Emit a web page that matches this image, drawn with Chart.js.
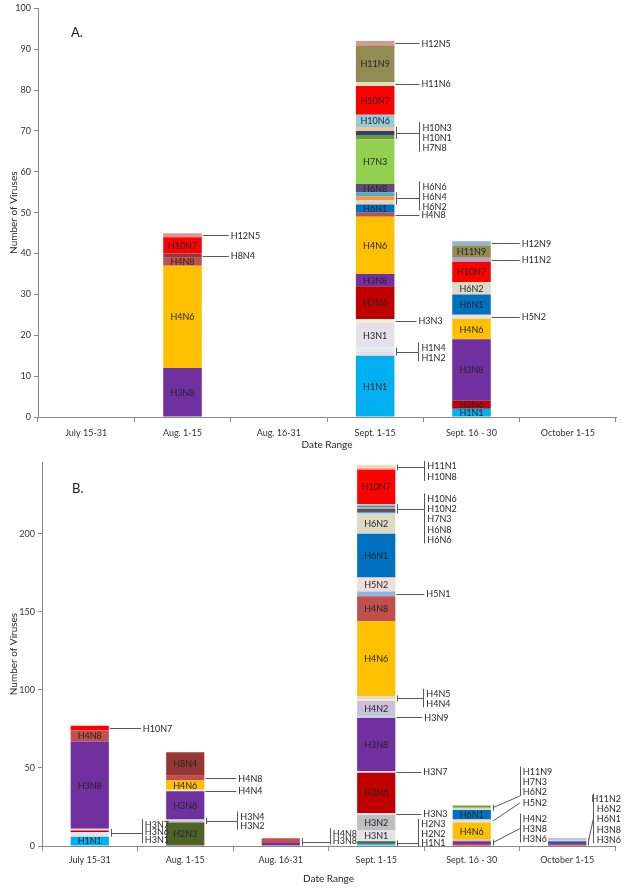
<!DOCTYPE html>
<html><head><meta charset="utf-8">
<script src="https://cdn.jsdelivr.net/npm/chart.js@4.4.1/dist/chart.umd.min.js"></script>
<style>
html,body{margin:0;padding:0;background:#fff;width:625px;height:893px;overflow:hidden}
canvas{position:absolute;left:0}
#ca{top:0}
#cb{top:450px}
</style></head><body>
<canvas id="ca" width="625" height="451"></canvas>
<canvas id="cb" width="625" height="435"></canvas>
<script>
const FONT = 'Lato, "Open Sans", "Liberation Sans", sans-serif';

// ---- categories (date ranges) ----
const categories = ['July 15-31', 'Aug. 1-15', 'Aug. 16-31', 'Sept. 1-15', 'Sept. 16 - 30', 'October 1-15'];

// ---- Panel A: number of viruses per subtype, one value per date range ----
const A_H1N1  = [0, 0, 0, 15, 2, 0];
const A_H1N2  = [0, 0, 0, 1, 0, 0];
const A_H1N4  = [0, 0, 0, 1, 0, 0];
const A_H3N1  = [0, 0, 0, 6, 0, 0];
const A_H3N3  = [0, 0, 0, 1, 0, 0];
const A_H3N6  = [0, 0, 0, 8, 2, 0];
const A_H3N8  = [0, 12, 0, 3, 15, 0];
const A_H4N6  = [0, 25, 0, 14, 5, 0];
const A_H4N8  = [0, 2, 0, 1, 0, 0];
const A_H5N2  = [0, 0, 0, 0, 1, 0];
const A_H6N1  = [0, 0, 0, 2, 5, 0];
const A_H6N2  = [0, 0, 0, 1, 3, 0];
const A_H6N4  = [0, 0, 0, 1, 0, 0];
const A_H6N6  = [0, 0, 0, 1, 0, 0];
const A_H6N8  = [0, 0, 0, 2, 0, 0];
const A_H7N3  = [0, 0, 0, 11, 0, 0];
const A_H7N8  = [0, 0, 0, 1, 0, 0];
const A_H8N4  = [0, 1, 0, 0, 0, 0];
const A_H10N1 = [0, 0, 0, 1, 0, 0];
const A_H10N3 = [0, 0, 0, 1, 0, 0];
const A_H10N6 = [0, 0, 0, 3, 0, 0];
const A_H10N7 = [0, 4, 0, 7, 5, 0];
const A_H11N2 = [0, 0, 0, 0, 1, 0];
const A_H11N6 = [0, 0, 0, 1, 0, 0];
const A_H11N9 = [0, 0, 0, 9, 3, 0];
const A_H12N5 = [0, 1, 0, 1, 0, 0];
const A_H12N9 = [0, 0, 0, 0, 1, 0];

// ---- Panel B ----
const B_H1N1  = [6, 0, 0, 1, 0, 0];
const B_H2N2  = [0, 0, 0, 1, 0, 0];
const B_H2N3  = [0, 15, 0, 1, 0, 0];
const B_H3N1  = [3, 0, 0, 7, 0, 0];
const B_H3N2  = [0, 1, 0, 10, 0, 0];
const B_H3N3  = [0, 0, 0, 1, 0, 0];
const B_H3N4  = [0, 1, 0, 0, 0, 0];
const B_H3N6  = [1, 0, 0, 26, 1, 1];
const B_H3N7  = [1, 0, 0, 1, 0, 0];
const B_H3N8  = [56, 18, 2, 34, 2, 1];
const B_H3N9  = [0, 0, 0, 1, 0, 0];
const B_H4N2  = [0, 0, 0, 10, 1, 0];
const B_H4N4  = [0, 1, 0, 1, 0, 0];
const B_H4N5  = [0, 0, 0, 2, 0, 0];
const B_H4N6  = [0, 6, 0, 48, 11, 0];
const B_H4N8  = [7, 3, 3, 16, 0, 0];
const B_H5N1  = [0, 0, 0, 3, 0, 0];
const B_H5N2  = [0, 0, 0, 9, 2, 0];
const B_H6N1  = [0, 0, 0, 28, 6, 1];
const B_H6N2  = [0, 0, 0, 13, 1, 1];
const B_H6N6  = [0, 0, 0, 1, 0, 0];
const B_H6N8  = [0, 0, 0, 2, 0, 0];
const B_H7N3  = [0, 0, 0, 1, 1, 0];
const B_H8N4  = [0, 15, 0, 0, 0, 0];
const B_H10N2 = [0, 0, 0, 1, 0, 0];
const B_H10N6 = [0, 0, 0, 1, 0, 0];
const B_H10N7 = [3, 0, 0, 22, 0, 0];
const B_H10N8 = [0, 0, 0, 1, 0, 0];
const B_H11N1 = [0, 0, 0, 2, 0, 0];
const B_H11N2 = [0, 0, 0, 0, 0, 1];
const B_H11N9 = [0, 0, 0, 0, 1, 0];

const seriesA = [
  ['H1N1', A_H1N1], ['H1N2', A_H1N2], ['H1N4', A_H1N4], ['H3N1', A_H3N1], ['H3N3', A_H3N3],
  ['H3N6', A_H3N6], ['H3N8', A_H3N8], ['H4N6', A_H4N6], ['H4N8', A_H4N8], ['H5N2', A_H5N2],
  ['H6N1', A_H6N1], ['H6N2', A_H6N2], ['H6N4', A_H6N4], ['H6N6', A_H6N6], ['H6N8', A_H6N8],
  ['H7N3', A_H7N3], ['H7N8', A_H7N8], ['H8N4', A_H8N4], ['H10N1', A_H10N1], ['H10N3', A_H10N3],
  ['H10N6', A_H10N6], ['H10N7', A_H10N7], ['H11N2', A_H11N2], ['H11N6', A_H11N6], ['H11N9', A_H11N9],
  ['H12N5', A_H12N5], ['H12N9', A_H12N9]
];
const seriesB = [
  ['H1N1', B_H1N1], ['H2N2', B_H2N2], ['H2N3', B_H2N3], ['H3N1', B_H3N1], ['H3N2', B_H3N2],
  ['H3N3', B_H3N3], ['H3N4', B_H3N4], ['H3N6', B_H3N6], ['H3N7', B_H3N7], ['H3N8', B_H3N8],
  ['H3N9', B_H3N9], ['H4N2', B_H4N2], ['H4N4', B_H4N4], ['H4N5', B_H4N5], ['H4N6', B_H4N6],
  ['H4N8', B_H4N8], ['H5N1', B_H5N1], ['H5N2', B_H5N2], ['H6N1', B_H6N1], ['H6N2', B_H6N2],
  ['H6N6', B_H6N6], ['H6N8', B_H6N8], ['H7N3', B_H7N3], ['H8N4', B_H8N4], ['H10N2', B_H10N2],
  ['H10N6', B_H10N6], ['H10N7', B_H10N7], ['H10N8', B_H10N8], ['H11N1', B_H11N1], ['H11N2', B_H11N2],
  ['H11N9', B_H11N9]
];

// ---- styles ----
const subtypeColors = {
  H1N1:'#00B0F0', H1N2:'#F2DCDB', H1N4:'#DBEEF4', H2N2:'#31859C', H2N3:'#4F6228',
  H3N1:'#E6E0EC', H3N2:'#BFBFBF', H3N3:'#EBF1DE', H3N4:'#D9D9D9', H3N6:'#C00000',
  H3N7:'#F2DCDB', H3N8:'#7030A0', H3N9:'#B9CDE5', H4N2:'#CCC1DA', H4N4:'#FDEADA',
  H4N5:'#DDD9C3', H4N6:'#FFC000', H4N8:'#C0504D', H5N1:'#8EB4E3', H5N2:'#F2DCDB',
  H6N1:'#0070C0', H6N2:'#DDD9C3', H6N4:'#F79646', H6N6:'#4BACC6', H6N8:'#604A7B',
  H7N3:'#92D050', H7N8:'#77933C', H8N4:'#953735', H10N1:'#1F497D', H10N2:'#4F81BD',
  H10N3:'#FAC090', H10N6:'#93CDDD', H10N7:'#FF0000', H10N8:'#D99694', H11N1:'#FCD5B5',
  H11N2:'#B3A2C7', H11N6:'#D7E4BD', H11N9:'#948A54', H12N5:'#D99694', H12N9:'#95B3D7'
};

const calloutsA = [
  {cat:1, type:'line', names:['H12N5'], labels:['H12N5'], len:27},
  {cat:1, type:'line', names:['H8N4'], labels:['H8N4'], len:27},
  {cat:3, type:'line', names:['H12N5'], labels:['H12N5'], len:25},
  {cat:3, type:'line', names:['H11N6'], labels:['H11N6'], len:25},
  {cat:3, type:'bracket', names:['H7N8','H10N1','H10N3'], labels:['H10N3','H10N1','H7N8'], len:25, dy:4.5, lh:10.3},
  {cat:3, type:'bracket', names:['H6N2','H6N4','H6N6'], labels:['H6N6','H6N4','H6N2'], len:25, dy:-2, lh:10},
  {cat:3, type:'line', names:['H4N8'], labels:['H4N8'], len:25},
  {cat:3, type:'line', names:['H3N3'], labels:['H3N3'], len:22},
  {cat:3, type:'bracket', names:['H1N2','H1N4'], labels:['H1N4','H1N2'], len:24, dy:1, lh:10},
  {cat:4, type:'line', names:['H12N9'], labels:['H12N9'], len:29},
  {cat:4, type:'line', names:['H11N2'], labels:['H11N2'], len:29},
  {cat:4, type:'line', names:['H5N2'], labels:['H5N2'], len:29}
];
const calloutsB = [
  {cat:0, type:'line', names:['H10N7'], labels:['H10N7'], len:32},
  {cat:0, type:'bracket', names:['H3N1','H3N6','H3N7'], labels:['H3N7','H3N6','H3N1'], len:33, dy:-1, lh:7.5},
  {cat:1, type:'line', names:['H4N8'], labels:['H4N8'], len:32},
  {cat:1, type:'line', names:['H4N4'], labels:['H4N4'], len:32},
  {cat:1, type:'bracket', names:['H3N2','H3N4'], labels:['H3N4','H3N2'], len:33, dy:0, lh:9.3},
  {cat:2, type:'bracket', names:['H3N8','H4N8'], labels:['H4N8','H3N8'], len:30, dy:-5, lh:7.5},
  {cat:3, type:'bracket', names:['H10N8','H11N1'], labels:['H11N1','H10N8'], len:29, dy:4, lh:11},
  {cat:3, type:'bracket', names:['H6N6','H6N8','H7N3','H10N2','H10N6'], labels:['H10N6','H10N2','H7N3','H6N8','H6N6'], len:29, dy:10, lh:10.3},
  {cat:3, type:'line', names:['H5N1'], labels:['H5N1'], len:29},
  {cat:3, type:'bracket', names:['H4N4','H4N5'], labels:['H4N5','H4N4'], len:28, dy:0, lh:9.5},
  {cat:3, type:'line', names:['H3N9'], labels:['H3N9'], len:27},
  {cat:3, type:'line', names:['H3N7'], labels:['H3N7'], len:26},
  {cat:3, type:'line', names:['H3N3'], labels:['H3N3'], len:26},
  {cat:3, type:'bracket', names:['H1N1','H2N2','H2N3'], labels:['H2N3','H2N2','H1N1'], len:23, dy:-10, lh:9.4},
  {cat:4, type:'slant', names:['H6N2','H7N3','H11N9'], labels:['H11N9','H7N3','H6N2'], len:29, dy:-26, lh:10.3, endBottom:true},
  {cat:4, type:'slant', names:['H5N2'], labels:['H5N2'], len:29, dy:-18},
  {cat:4, type:'slant', names:['H3N6','H3N8','H4N2'], labels:['H4N2','H3N8','H3N6'], len:29, dy:-14, lh:10},
  {cat:5, type:'slant', names:['H3N6','H3N8','H6N1','H6N2','H11N2'], labels:['H11N2','H6N2','H6N1','H3N8','H3N6'], len:7, dy:-23, lh:10.25, alignRightX:621}
];

// ---- plugins ----
const segLabelPlugin = {
  id: 'segLabels',
  afterDatasetsDraw(chart, args, opts) {
    const ctx = chart.ctx;
    ctx.save();
    ctx.font = '9px ' + FONT;
    ctx.textAlign = 'center';
    ctx.textBaseline = 'middle';
    ctx.fillStyle = '#262626';
    chart.data.datasets.forEach((ds, di) => {
      const meta = chart.getDatasetMeta(di);
      meta.data.forEach((el, i) => {
        const v = ds.data[i];
        if (!v) return;
        const h = Math.abs(el.base - el.y);
        if (h < opts.minPx) return;
        ctx.fillText(ds.label, el.x, (el.y + el.base) / 2 + 0.5);
      });
    });
    ctx.restore();
  }
};

const calloutPlugin = {
  id: 'callouts',
  afterDatasetsDraw(chart, args, opts) {
    const ctx = chart.ctx;
    ctx.save();
    ctx.strokeStyle = '#595959';
    ctx.lineWidth = 1;
    ctx.fillStyle = '#262626';
    ctx.font = '9px ' + FONT;
    ctx.textBaseline = 'middle';
    const r = v => Math.round(v) + 0.5;
    (opts.items || []).forEach(it => {
      let top = Infinity, bot = -Infinity, right = 0;
      it.names.forEach(n => {
        const di = chart.data.datasets.findIndex(d => d.label === n);
        const el = chart.getDatasetMeta(di).data[it.cat];
        top = Math.min(top, el.y);
        bot = Math.max(bot, el.base);
        right = el.x + el.width / 2;
      });
      const cy = (top + bot) / 2;
      const n = it.labels.length;
      const lh = it.lh || 10;
      const lc = cy + (it.dy || 0);
      const vx = right + it.len;
      const ys = it.labels.map((_, k) => lc + (k - (n - 1) / 2) * lh);
      ctx.beginPath();
      if (it.type === 'line') {
        ctx.moveTo(right + 1, r(cy));
        ctx.lineTo(vx, r(cy));
      } else {
        if (it.names.length > 1) {
          const t = Math.min(top, cy - 3), b = Math.max(bot, cy + 3);
          ctx.moveTo(r(right + 2), t);
          ctx.lineTo(r(right + 2), b);
        }
        if (it.type === 'bracket') {
          ctx.moveTo(right + 2, r(cy));
          ctx.lineTo(vx, r(cy));
        } else {
          const ey = it.endBottom ? ys[n - 1] + 4 : lc;
          ctx.moveTo(right + 2, cy);
          ctx.lineTo(vx, ey);
        }
        if (n > 1) {
          ctx.moveTo(r(vx), ys[0] - 5);
          ctx.lineTo(r(vx), ys[n - 1] + 4);
        }
      }
      ctx.stroke();
      if (it.alignRightX) {
        ctx.textAlign = 'right';
        it.labels.forEach((t, k) => ctx.fillText(t, it.alignRightX, ys[k] + 0.5));
      } else {
        ctx.textAlign = 'left';
        const lx = it.type === 'line' ? vx + 2 : vx + 3;
        it.labels.forEach((t, k) => ctx.fillText(t, lx, ys[k] + 0.5));
      }
    });
    ctx.restore();
  }
};

const tagPlugin = {
  id: 'panelTag',
  afterDraw(chart, args, opts) {
    const ctx = chart.ctx;
    ctx.save();
    ctx.font = '13px ' + FONT;
    ctx.fillStyle = '#1a1a1a';
    ctx.textAlign = 'left';
    ctx.textBaseline = 'middle';
    ctx.fillText(opts.text, opts.x, opts.y);
    ctx.restore();
  }
};

function makeChart(id, series, cfg) {
  const datasets = series.map(([name, vals]) => ({
    label: name,
    data: vals,
    backgroundColor: subtypeColors[name],
    borderWidth: 0,
    barPercentage: 0.4,
    categoryPercentage: 1.0,
    stack: 's'
  }));
  return new Chart(document.getElementById(id), {
    type: 'bar',
    data: { labels: categories, datasets },
    options: {
      responsive: false,
      animation: false,
      devicePixelRatio: 1,
      layout: { padding: { left: 8, right: cfg.padRight, top: cfg.padTop, bottom: 0 } },
      plugins: {
        legend: { display: false },
        tooltip: { enabled: false },
        segLabels: { minPx: 7 },
        callouts: { items: cfg.callouts },
        panelTag: { text: cfg.tag, x: cfg.tagX, y: cfg.tagY }
      },
      scales: {
        x: {
          stacked: true,
          offset: true,
          grid: { offset: true, drawOnChartArea: false, tickLength: 5, color: '#898989' },
          border: { color: '#898989' },
          ticks: { padding: cfg.xPad, color: '#333', font: { size: 9, family: FONT }, maxRotation: 0, autoSkip: false },
          title: { display: true, text: 'Date Range', padding: 0, color: '#262626', font: { size: 10, family: FONT } },
          afterFit: s => { s.height = cfg.xH; }
        },
        y: {
          stacked: true,
          min: 0,
          max: cfg.max,
          ticks: { stepSize: cfg.step, padding: 3, color: '#333', font: { size: 9, family: FONT } },
          grid: { drawOnChartArea: false, tickLength: 4, color: '#898989' },
          border: { color: '#898989' },
          title: { display: true, text: 'Number of Viruses', padding: 0, color: '#262626', font: { size: 10, family: FONT } },
          afterBuildTicks: s => { s.ticks = s.ticks.filter(t => t.value % cfg.step === 0); },
          afterFit: s => { s.width = cfg.yW; }
        }
      }
    },
    plugins: [segLabelPlugin, calloutPlugin, tagPlugin]
  });
}

makeChart('ca', seriesA, { max: 100, step: 10, padTop: 6, padRight: 9, xH: 34, xPad: 6, yW: 30, callouts: calloutsA, tag: 'A.', tagX: 71, tagY: 33 });
makeChart('cb', seriesB, { max: 246, step: 50, padTop: 12, padRight: 10, xH: 39, xPad: 4, yW: 34, callouts: calloutsB, tag: 'B.', tagX: 72, tagY: 39 });
</script></body></html>
